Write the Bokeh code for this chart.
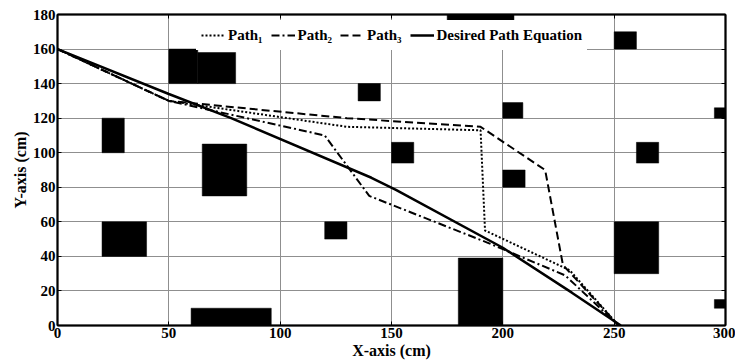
from bokeh.plotting import figure
from bokeh.models import Range1d, LinearAxis, FixedTicker, ColumnDataSource
from bokeh.embed import file_html
from bokeh.resources import INLINE

# ---------------- data ----------------
x_ticks = [0, 50, 100, 150, 200, 250, 300]
y_ticks = [0, 20, 40, 60, 80, 100, 120, 140, 160, 180]

# obstacles (left, right, bottom, top) in cm
obs_left   = [50, 63, 20, 65, 135, 175, 250, 200, 295, 150, 260, 200, 20, 120, 60, 180, 250, 295]
obs_right  = [63, 80, 30, 85, 145, 205, 260, 209, 300, 160, 270, 210, 40, 130, 96, 200, 270, 300]
obs_bottom = [140, 140, 100, 75, 130, 176, 160, 120, 120, 94, 94, 80, 40, 50, 0, 0, 30, 10]
obs_top    = [160, 158, 120, 105, 140, 180, 170, 129, 126, 106, 106, 90, 60, 60, 10, 39, 60, 15]

path1_x = [0, 50, 130, 190, 192, 230, 252]
path1_y = [160, 130, 115, 113, 55, 32, 0]
path2_x = [0, 50, 120, 140, 193, 228, 252]
path2_y = [160, 130, 110, 75, 48, 29, 0]
path3_x = [0, 50, 130, 190, 219, 227, 252]
path3_y = [160, 130, 120, 115, 90, 35, 0]
desired_x = [0, 50, 78, 141, 152, 200, 231, 253]
desired_y = [160, 134, 120, 85.5, 78.5, 45, 19, 0]

labels = ["Path\u2081", "Path\u2082", "Path\u2083", "Desired Path Equation"]

FONT = "'Liberation Serif', 'Times New Roman', serif"

p = figure(width=735, height=363, output_backend="svg", toolbar_location=None,
           x_range=Range1d(0, 300), y_range=Range1d(0, 180),
           min_border_left=57, min_border_right=10, min_border_top=14,
           min_border_bottom=38, background_fill_color="white")

p.outline_line_color = "black"
p.outline_line_width = 1.5

# grid
p.xgrid.ticker = FixedTicker(ticks=x_ticks)
p.ygrid.ticker = FixedTicker(ticks=y_ticks)
for g in (p.xgrid, p.ygrid):
    g.grid_line_color = "#8f8f8f"
    g.grid_line_width = 1

# main axes
for ax, ticks in ((p.xaxis[0], x_ticks), (p.yaxis[0], y_ticks)):
    ax.ticker = FixedTicker(ticks=ticks)
    ax.major_tick_in = 4
    ax.major_tick_out = 0
    ax.minor_tick_line_color = None
    ax.axis_line_width = 2
    ax.major_label_text_font = FONT
    ax.major_label_text_font_style = "bold"
    ax.major_label_text_font_size = "15px"
    ax.major_label_text_color = "black"
    ax.axis_label_text_font = FONT
    ax.axis_label_text_font_style = "bold"
    ax.axis_label_text_font_size = "16px"
    ax.axis_label_text_color = "black"
    ax.major_label_standoff = 2
    ax.axis_label_standoff = 1

p.xaxis[0].axis_label = "X-axis (cm)"
p.yaxis[0].axis_label = "Y-axis (cm)"

# mirrored axes (ticks only, no labels drawn)
top_ax = LinearAxis(ticker=FixedTicker(ticks=x_ticks), major_tick_in=4, major_tick_out=0,
                    minor_tick_line_color=None, major_label_text_font_size="1px",
                    major_label_text_color=None, axis_line_width=2)
right_ax = LinearAxis(ticker=FixedTicker(ticks=y_ticks), major_tick_in=4, major_tick_out=0,
                      minor_tick_line_color=None, major_label_text_font_size="1px",
                      major_label_text_color=None, axis_line_width=2)
top_ax.major_label_standoff = 0
right_ax.major_label_standoff = 0
p.add_layout(top_ax, "above")
p.add_layout(right_ax, "right")

# obstacles
obs = ColumnDataSource(dict(left=obs_left, right=obs_right, bottom=obs_bottom, top=obs_top))
p.quad(left="left", right="right", bottom="bottom", top="top", source=obs,
       fill_color="black", line_color="black", line_width=0.5)

# paths
p.line(path1_x, path1_y, line_color="black", line_width=2, line_dash="2 2",
       legend_label=labels[0])
p.line(path2_x, path2_y, line_color="black", line_width=2, line_dash="8 3 2 3",
       legend_label=labels[1])
p.line(path3_x, path3_y, line_color="black", line_width=2, line_dash="8 4",
       legend_label=labels[2])
p.line(desired_x, desired_y, line_color="black", line_width=2.5,
       legend_label=labels[3])

lg = p.legend[0]
lg.orientation = "horizontal"
lg.location = (139, 275)
lg.padding = 5
lg.spacing = 8
lg.margin = 0
lg.glyph_width = 24
lg.glyph_height = 20
lg.label_height = 20
lg.label_standoff = 3
lg.background_fill_color = "white"
lg.background_fill_alpha = 1.0
lg.border_line_alpha = 0
lg.label_text_font = FONT
lg.label_text_font_style = "bold"
lg.label_text_font_size = "15px"
lg.label_text_color = "black"

open("out.html", "w").write(file_html(p, INLINE))
